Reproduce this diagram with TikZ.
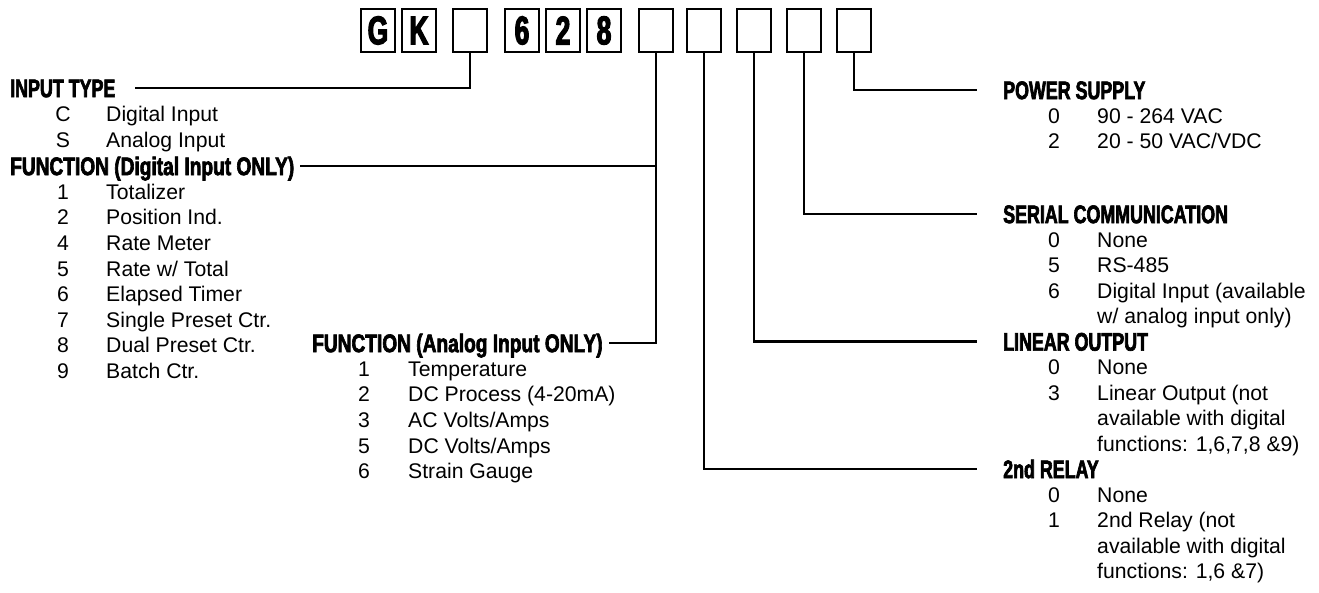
\documentclass[tikz,border=0pt]{standalone}
\usepackage{fontspec}
\setmainfont{Liberation Sans}
\newfontfamily\hdfont{Liberation Sans Bold}[FakeStretch=0.70,FakeBold=2.5]
\newfontfamily\hdwfont{Liberation Sans Bold}[FakeStretch=0.75,FakeBold=2.5]
\newfontfamily\bxfont{Liberation Sans Bold}[FakeStretch=0.66,FakeBold=3]
\begin{document}
\begin{tikzpicture}[x=1pt,y=-1pt,
  hd/.style={font=\hdfont\fontsize{25.5}{25.5}\selectfont, anchor=west, inner sep=0pt, text height=18.3pt, text depth=0pt},
  hdw/.style={hd, font=\hdwfont\fontsize{25.5}{25.5}\selectfont},
  tx/.style={font=\fontsize{21.2}{21.2}\selectfont, anchor=west, inner sep=0pt, text height=15.2pt, text depth=0pt},
  num/.style={tx, anchor=center},
  codebox/.style={draw, line width=2.4pt, minimum width=34pt, minimum height=43pt, inner sep=0pt, font=\bxfont\fontsize{40}{40}\selectfont},
  conn/.style={line width=2.3pt}]
\useasboundingbox (0,0) rectangle (1319,592);

% code boxes
\node[codebox] (b1) at (378,30.5) {G};
\node[codebox] (b2) at (419,30.5) {K};
\node[codebox] (b3) at (470,30.5) {};
\node[codebox] (b4) at (522,30.5) {6};
\node[codebox] (b5) at (563,30.5) {2};
\node[codebox] (b6) at (604,30.5) {8};
\node[codebox] (b7) at (656,30.5) {};
\node[codebox] (b8) at (704,30.5) {};
\node[codebox] (b9) at (754,30.5) {};
\node[codebox] (b10) at (804,30.5) {};
\node[codebox] (b11) at (854,30.5) {};

% left column
\node[hd] (hin) at (10,88) {INPUT TYPE};
\node[num] (nC) at (63,114) {C}; \node[tx] (tC) at (106,114) {Digital Input};
\node[num] (nS) at (63,140) {S}; \node[tx] (tS) at (106,140) {Analog Input};
\node[hdw] (hfd) at (10,166) {FUNCTION (Digital Input ONLY)};
\node[num] (d1) at (63,191.6) {1}; \node[tx] (e1) at (106,191.6) {Totalizer};
\node[num] (d2) at (63,217.2) {2}; \node[tx] (e2) at (106,217.2) {Position Ind.};
\node[num] (d3) at (63,242.8) {4}; \node[tx] (e3) at (106,242.8) {Rate Meter};
\node[num] (d4) at (63,268.4) {5}; \node[tx] (e4) at (106,268.4) {Rate w/ Total};
\node[num] (d5) at (63,294) {6}; \node[tx] (e5) at (106,294) {Elapsed Timer};
\node[num] (d6) at (63,319.6) {7}; \node[tx] (e6) at (106,319.6) {Single Preset Ctr.};
\node[num] (d7) at (63,345.2) {8}; \node[tx] (e7) at (106,345.2) {Dual Preset Ctr.};
\node[num] (d8) at (63,370.8) {9}; \node[tx] (e8) at (106,370.8) {Batch Ctr.};

% analog function
\node[hdw] (hfa) at (312,343) {FUNCTION (Analog Input ONLY)};
\node[num] (a1) at (364,368.6) {1}; \node[tx] (f1) at (408,368.6) {Temperature};
\node[num] (a2) at (364,394.2) {2}; \node[tx] (f2) at (408,394.2) {DC Process (4-20mA)};
\node[num] (a3) at (364,419.8) {3}; \node[tx] (f3) at (408,419.8) {AC Volts/Amps};
\node[num] (a4) at (364,445.4) {5}; \node[tx] (f4) at (408,445.4) {DC Volts/Amps};
\node[num] (a5) at (364,471) {6}; \node[tx] (f5) at (408,471) {Strain Gauge};

% right column
\node[hd] (hps) at (1003,90) {POWER SUPPLY};
\node[num] (p1) at (1054,115.5) {0}; \node[tx] (q1) at (1097,115.5) {90 - 264 VAC};
\node[num] (p2) at (1054,141) {2}; \node[tx] (q2) at (1097,141) {20 - 50 VAC/VDC};

\node[hd] (hsc) at (1003,214) {SERIAL COMMUNICATION};
\node[num] (s1) at (1054,239.5) {0}; \node[tx] (r1) at (1097,239.5) {None};
\node[num] (s2) at (1054,265) {5}; \node[tx] (r2) at (1097,265) {RS-485};
\node[num] (s3) at (1054,290.5) {6}; \node[tx] (r3) at (1097,290.5) {Digital Input (available};
\node[tx] (r4) at (1097,316) {w/ analog input only)};

\node[hd] (hlo) at (1003,341.5) {LINEAR OUTPUT};
\node[num] (l1) at (1054,367) {0}; \node[tx] (m1) at (1097,367) {None};
\node[num] (l2) at (1054,392.5) {3}; \node[tx] (m2) at (1097,392.5) {Linear Output (not};
\node[tx] (m3) at (1097,418) {available with digital};
\node[tx] (m4) at (1097,443.5) {functions: 1,6,7,8 \&9)};

\node[hd] (hr2) at (1003,469) {2nd RELAY};
\node[num] (k1) at (1054,494.5) {0}; \node[tx] (j1) at (1097,494.5) {None};
\node[num] (k2) at (1054,520) {1}; \node[tx] (j2) at (1097,520) {2nd Relay (not};
\node[tx] (j3) at (1097,545.5) {available with digital};
\node[tx] (j4) at (1097,571) {functions: 1,6 \&7)};

% connectors
\draw[conn] (b3.south) |- ([xshift=19pt]hin.east);
\draw[conn] (b7.south) |- ([xshift=6pt]hfa.east);
\draw[conn] ([xshift=6pt]hfd.east) -- (hfd.east -| b7.south);
\draw[conn] (b8.south) |- ([xshift=-26pt]hr2.west);
\draw[conn] (b9.south) |- ([xshift=-26pt]hlo.west);
\draw[conn] (b10.south) |- ([xshift=-26pt]hsc.west);
\draw[conn] (b11.south) |- ([xshift=-26pt]hps.west);
\end{tikzpicture}
\end{document}
